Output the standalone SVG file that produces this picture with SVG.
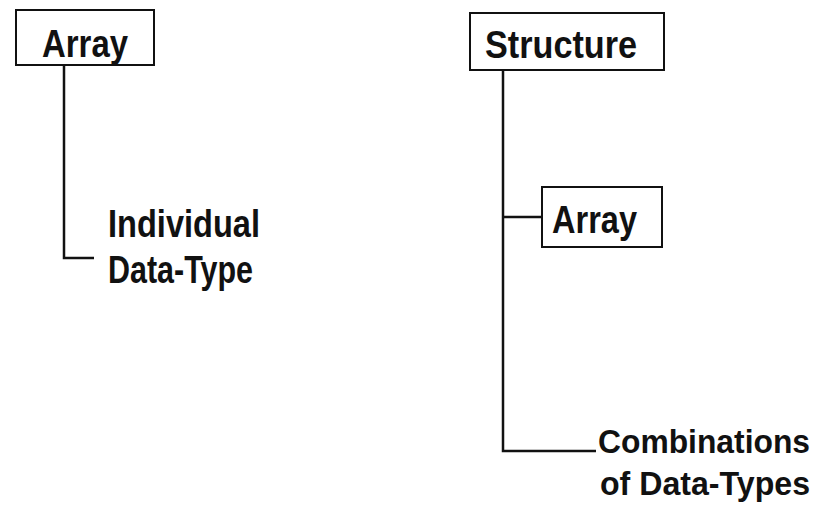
<svg xmlns="http://www.w3.org/2000/svg" width="825" height="511" viewBox="0 0 825 511">
<style>
.box{fill:none;stroke:#111;stroke-width:2}
.ln{fill:none;stroke:#111;stroke-width:2.5}
text{font-family:"Liberation Sans",Arial,sans-serif;font-weight:bold;font-size:39px;fill:#111}
text.sm{font-size:33.5px}
</style>
<rect width="825" height="511" fill="#fff"/>
<g id="connectors">
<polyline class="ln" points="64,65 64,258 94,258"/>
<polyline class="ln" points="503,70 503,451 596,451"/>
<line class="ln" x1="503" y1="217" x2="542" y2="217"/>
</g>
<g id="array-left">
<rect class="box" x="16" y="10" width="138" height="55"/>
<text x="42" y="57" textLength="86" lengthAdjust="spacingAndGlyphs">Array</text>
</g>
<g id="individual">
<text x="108" y="237" textLength="152" lengthAdjust="spacingAndGlyphs">Individual</text>
<text x="108" y="283" textLength="145" lengthAdjust="spacingAndGlyphs">Data-Type</text>
</g>
<g id="structure">
<rect class="box" x="470" y="13" width="194" height="57"/>
<text x="485" y="58" textLength="152" lengthAdjust="spacingAndGlyphs">Structure</text>
</g>
<g id="array-right">
<rect class="box" x="542" y="187" width="120" height="60"/>
<text x="552" y="233" textLength="85" lengthAdjust="spacingAndGlyphs">Array</text>
</g>
<g id="combinations">
<text class="sm" x="598" y="453" textLength="212" lengthAdjust="spacingAndGlyphs">Combinations</text>
<text class="sm" x="600" y="495" textLength="210" lengthAdjust="spacingAndGlyphs">of Data-Types</text>
</g>
</svg>
